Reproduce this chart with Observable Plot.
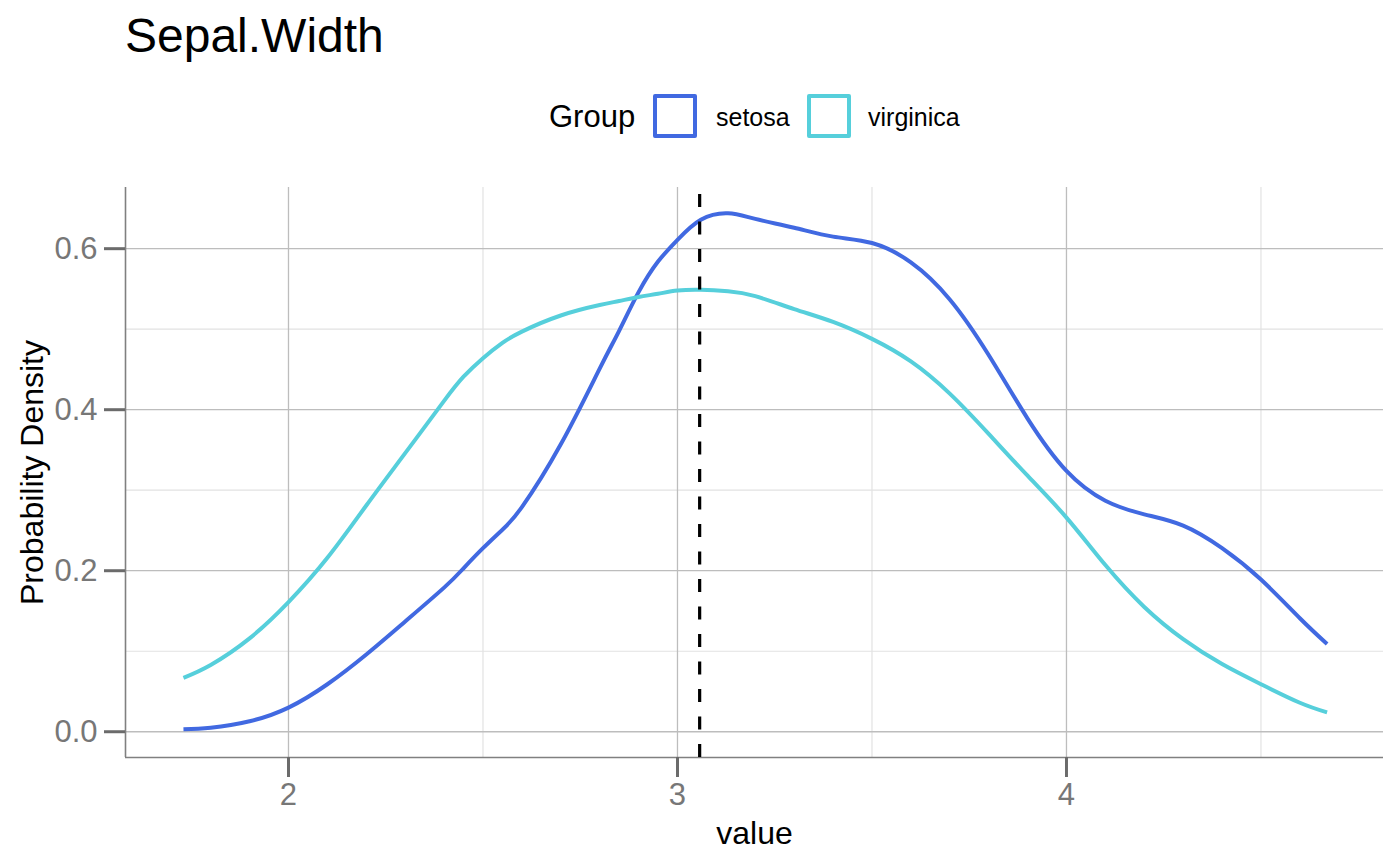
<!DOCTYPE html>
<html>
<head>
<meta charset="utf-8">
<script src="https://cdn.jsdelivr.net/npm/d3@7"></script>
<script src="https://cdn.jsdelivr.net/npm/@observablehq/plot@0.6"></script>
<style>
  html, body { margin: 0; padding: 0; background: #fff; }
  body { width: 1400px; height: 866px; overflow: hidden; font-family: "Liberation Sans", Arial, Helvetica, sans-serif; }
  #title { position: relative; height: 80px; }
  #title span { position: absolute; left: 125px; top: 12px; font-size: 48px; line-height: 48px; color: #000; white-space: nowrap; }
  #legend { position: relative; height: 80px; }
  #legend .lab { position: absolute; white-space: nowrap; color: #000; }
  #legend .key { position: absolute; box-sizing: border-box; width: 44px; height: 44px; border-radius: 2px; background: #fff; }
</style>
</head>
<body>
<div id="title"><span>Sepal.Width</span></div>
<div id="legend"></div>
<div id="chart"></div>
<script>
// ---- data ----
const groups = ["setosa", "virginica"];
const groupColors = ["#4169E1", "#56CFDB"];
const grid = [1.73, 1.8, 1.9, 2.0, 2.1, 2.2, 2.3, 2.4, 2.45, 2.5, 2.55, 2.6, 2.7, 2.8, 2.85, 2.9, 2.95, 3.0, 3.06, 3.13, 3.2, 3.3, 3.4, 3.5, 3.6, 3.7, 3.8, 3.9, 4.0, 4.1, 4.2, 4.3, 4.4, 4.5, 4.6, 4.67];
const setosa = [0.003, 0.005, 0.013, 0.030, 0.059, 0.096, 0.137, 0.179, 0.203, 0.228, 0.251, 0.279, 0.357, 0.451, 0.498, 0.546, 0.584, 0.611, 0.636, 0.644, 0.637, 0.626, 0.615, 0.607, 0.583, 0.537, 0.468, 0.389, 0.324, 0.287, 0.270, 0.256, 0.228, 0.189, 0.141, 0.109];
const virginica = [0.067, 0.083, 0.116, 0.161, 0.216, 0.281, 0.346, 0.411, 0.441, 0.464, 0.483, 0.497, 0.517, 0.530, 0.535, 0.540, 0.544, 0.548, 0.549, 0.547, 0.541, 0.525, 0.509, 0.488, 0.460, 0.420, 0.370, 0.318, 0.266, 0.207, 0.155, 0.115, 0.084, 0.059, 0.036, 0.024];
const meanValue = 3.057;
const xTicks = [2, 3, 4];
const xMinor = [2.5, 3.5, 4.5];
const yTicks = [0, 0.2, 0.4, 0.6];
const yMinor = [0.1, 0.3, 0.5];
const xDomain = [1.581, 4.815];
const yDomain = [-0.032, 0.676];

// ---- table ----
const rows = [];
grid.forEach((v, i) => {
  rows.push({group: "setosa", value: v, density: setosa[i]});
  rows.push({group: "virginica", value: v, density: virginica[i]});
});

// ---- legend (HTML) ----
const legend = document.getElementById("legend");
function addLab(text, left, size) {
  const s = document.createElement("span");
  s.className = "lab";
  s.textContent = text;
  s.style.left = left + "px";
  s.style.fontSize = size + "px";
  s.style.lineHeight = "44px";
  s.style.top = "15px";
  legend.appendChild(s);
}
function addKey(color, left) {
  const k = document.createElement("div");
  k.className = "key";
  k.style.left = left + "px";
  k.style.top = "14px";
  k.style.border = "4px solid " + color;
  legend.appendChild(k);
}
addLab("Group", 549, 31);
addKey(groupColors[0], 653);
addLab(groups[0], 716, 25);
addKey(groupColors[1], 807);
addLab(groups[1], 868, 25);

// ---- chart ----
const chart = Plot.plot({
  width: 1400,
  height: 706,
  marginTop: 27,
  marginBottom: 109,
  marginLeft: 125,
  marginRight: 17,
  style: {fontFamily: "'Liberation Sans', Arial, Helvetica, sans-serif", fontSize: "30px", background: "#fff", overflow: "visible"},
  x: {domain: xDomain, axis: null},
  y: {domain: yDomain, axis: null},
  color: {domain: groups, range: groupColors},
  marks: [
    Plot.gridX(xMinor, {stroke: "#e2e2e2", strokeOpacity: 1, strokeWidth: 1.2}),
    Plot.gridY(yMinor, {stroke: "#e2e2e2", strokeOpacity: 1, strokeWidth: 1.2}),
    Plot.gridX(xTicks, {stroke: "#bdbdbd", strokeOpacity: 1, strokeWidth: 1.3}),
    Plot.gridY(yTicks, {stroke: "#bdbdbd", strokeOpacity: 1, strokeWidth: 1.3}),
    Plot.ruleX([xDomain[0]], {stroke: "#808080", strokeWidth: 1.6}),
    Plot.ruleY([yDomain[0]], {stroke: "#808080", strokeWidth: 1.6}),
    Plot.axisX(xTicks, {tickSize: 20, tickPadding: 5, stroke: "#6b6b6b", strokeWidth: 3, fill: "#777", fontSize: 31, tickFormat: d => String(d), label: null}),
    Plot.axisY(yTicks, {tickSize: 21, tickPadding: 7, stroke: "#6b6b6b", strokeWidth: 3, fill: "#777", fontSize: 31, tickFormat: d3.format(".1f"), label: null}),
    Plot.text(["Probability Density"], {frameAnchor: "left", textAnchor: "middle", lineAnchor: "middle", rotate: -90, dx: -93, fontSize: 32, fill: "#000"}),
    Plot.text(["value"], {frameAnchor: "bottom", textAnchor: "middle", lineAnchor: "middle", dy: 76, fontSize: 32, fill: "#000"}),
    Plot.line(rows, {x: "value", y: "density", stroke: "group", z: "group", curve: "natural", strokeWidth: 4, strokeLinecap: "butt", strokeLinejoin: "round"}),
    Plot.ruleX([meanValue], {y1: yDomain[0], y2: yDomain[1], stroke: "#000", strokeWidth: 3.2, strokeDasharray: "13,14.5"})
  ]
});
document.getElementById("chart").appendChild(chart);
</script>
</body>
</html>
